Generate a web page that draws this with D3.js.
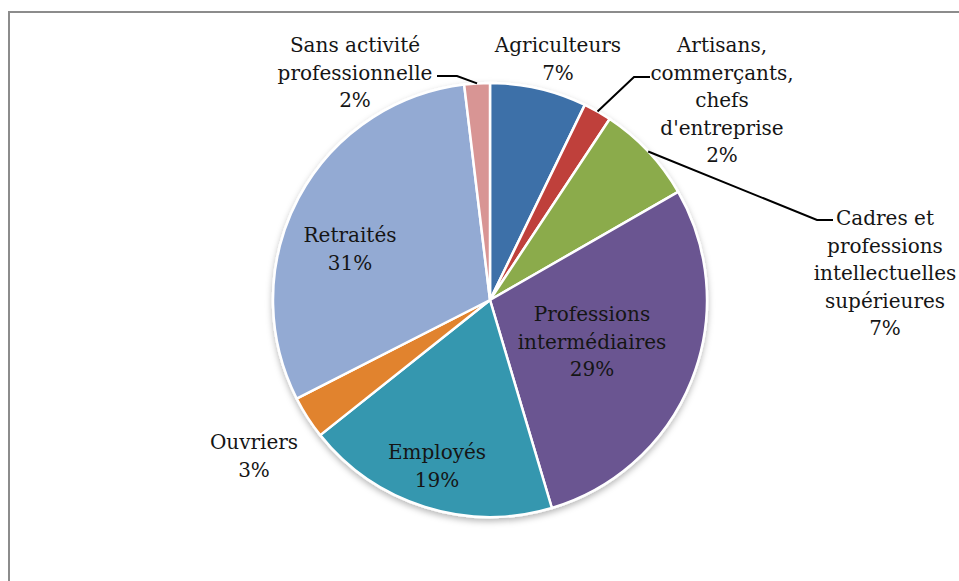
<!DOCTYPE html>
<html>
<head>
<meta charset="utf-8">
<script src="https://cdn.jsdelivr.net/npm/d3@7"></script>
<style>
  body { margin: 0; background: #fff; }
  svg text { font-family: "DejaVu Serif", serif; font-size: 20px; fill: #151515; }
</style>
</head>
<body>
<svg id="chart" width="959" height="581"></svg>
<script>
"use strict";

// categories and shares (percent)
var categories = ["Agriculteurs", "Artisans, commerçants, chefs d'entreprise",
  "Cadres et professions intellectuelles supérieures", "Professions intermédiaires",
  "Employés", "Ouvriers", "Retraités", "Sans activité professionnelle"];
var shares = [7.2, 2.1, 7.4, 28.7, 18.9, 3.2, 30.6, 1.9];
var labelLines = [
  ["Agriculteurs"],
  ["Artisans,", "commerçants,", "chefs", "d'entreprise"],
  ["Cadres et", "professions", "intellectuelles", "supérieures"],
  ["Professions", "intermédiaires"],
  ["Employés"],
  ["Ouvriers"],
  ["Retraités"],
  ["Sans activité", "professionnelle"]
];
var colors = ["#3d6fa8", "#bf3f3a", "#8bab4b", "#6a5491", "#3597af", "#e1832e", "#93aad3", "#d89594"];

var cx = 490, cy = 300, radius = 217, lineH = 27.5;

// label placement relative to pie centre: first line centre, optional leader (elbow, end)
var labelLayout = [
  {x: 68, y: -255},
  {x: 232, y: -255, elbow: [144, -223], end: [160, -223]},
  {x: 395, y: -82, elbow: [327, -80], end: [343, -80]},
  {x: 102, y: 14},
  {x: -53, y: 152},
  {x: -236, y: 142},
  {x: -140, y: -65},
  {x: -135, y: -255, elbow: [-33, -224], end: [-53, -224]}
];

var fmt = d3.format(".0f");
var svg = d3.select("#chart");

// frame (only top and left edges show)
svg.append("rect")
  .attr("x", 9).attr("y", 12)
  .attr("width", 1000).attr("height", 1000)
  .attr("fill", "none")
  .attr("stroke", "#8c8c8c")
  .attr("stroke-width", 2);

var defs = svg.append("defs");
var shadow = defs.append("filter").attr("id", "shadow")
  .attr("x", "-10%").attr("y", "-10%").attr("width", "120%").attr("height", "125%");
shadow.append("feDropShadow")
  .attr("dx", 0).attr("dy", 3)
  .attr("stdDeviation", 3)
  .attr("flood-color", "#000")
  .attr("flood-opacity", 0.28);

var pie = d3.pie().sort(null).value(function(d) { return d; });
var arcs = pie(shares);
var arc = d3.arc().innerRadius(0).outerRadius(radius);
var edgeArc = d3.arc().innerRadius(radius).outerRadius(radius);

var g = svg.append("g").attr("transform", "translate(" + cx + "," + cy + ")");

g.append("g")
  .attr("filter", "url(#shadow)")
  .selectAll("path")
  .data(arcs)
  .enter()
  .append("path")
  .attr("d", arc)
  .attr("fill", function(d, i) { return colors[i]; })
  .attr("stroke", "#fff")
  .attr("stroke-width", 2.5)
  .attr("stroke-linejoin", "round");

// leader lines
g.selectAll("polyline")
  .data(arcs.filter(function(d, i) { return labelLayout[i].elbow; }))
  .enter()
  .append("polyline")
  .attr("points", function(d) {
    var L = labelLayout[d.index];
    return [edgeArc.centroid(d), L.elbow, L.end].map(function(p) { return p.join(","); }).join(" ");
  })
  .attr("fill", "none")
  .attr("stroke", "#000")
  .attr("stroke-width", 2);

// labels
var labels = g.selectAll("text.lbl")
  .data(arcs)
  .enter()
  .append("text")
  .attr("class", "lbl")
  .attr("text-anchor", "middle")
  .attr("dominant-baseline", "central");

labels.each(function(d, i) {
  var L = labelLayout[i];
  var lines = labelLines[i].concat([fmt(d.value) + "%"]);
  d3.select(this).selectAll("tspan")
    .data(lines)
    .enter()
    .append("tspan")
    .attr("x", L.x)
    .attr("y", function(t, j) { return L.y + j * lineH; })
    .text(function(t) { return t; });
});
</script>
</body>
</html>
